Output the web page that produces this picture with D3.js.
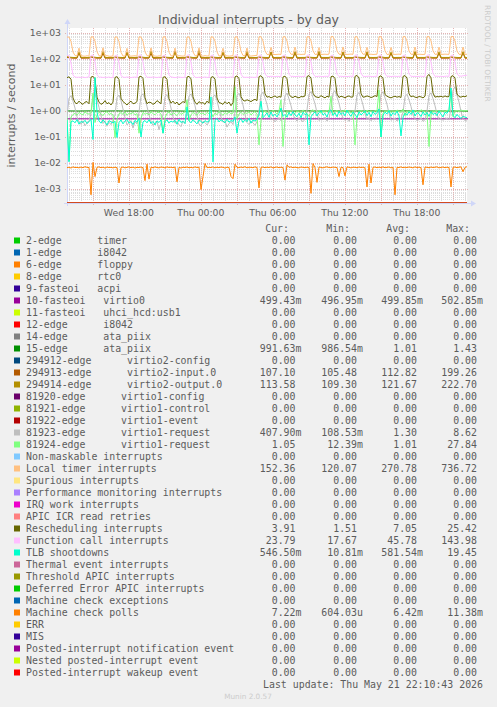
<!DOCTYPE html>
<html><head><meta charset="utf-8">
<script src="https://cdn.jsdelivr.net/npm/d3@7"></script>
<style>
html,body{margin:0;padding:0;background:#F0F0F0;}
svg{display:block;}
text{font-family:"DejaVu Sans";fill:#5c5c5c;}
.mono{font-family:"DejaVu Sans Mono";white-space:pre;}
</style></head><body>
<svg id="c" width="497" height="707"></svg>
<script>
// ---------------- DATA ----------------
const endTime = Date.UTC(2026, 4, 21, 22, 10, 43);
const spanSec = 120000;
const stepSec = 600;       // 10-minute samples
const flatStepSec = 3600;  // hourly samples for flat series

const yTickValues = [1e-3, 1e-2, 1e-1, 1e0, 1e1, 1e2, 1e3];
const yTickLabels = ["1e-03", "1e-02", "1e-01", "1e+00", "1e+01", "1e+02", "1e+03"];

const legendLabels = [
 "2-edge      timer","1-edge      i8042","6-edge      floppy","8-edge      rtc0","9-fasteoi   acpi",
 "10-fasteoi   virtio0","11-fasteoi   uhci_hcd:usb1","12-edge      i8042","14-edge      ata_piix","15-edge      ata_piix",
 "294912-edge      virtio2-config","294913-edge      virtio2-input.0","294914-edge      virtio2-output.0",
 "81920-edge      virtio1-config","81921-edge      virtio1-control","81922-edge      virtio1-event",
 "81923-edge      virtio1-request","81924-edge      virtio1-request",
 "Non-maskable interrupts","Local timer interrupts","Spurious interrupts","Performance monitoring interrupts",
 "IRQ work interrupts","APIC ICR read retries","Rescheduling interrupts","Function call interrupts","TLB shootdowns",
 "Thermal event interrupts","Threshold APIC interrupts","Deferred Error APIC interrupts","Machine check exceptions",
 "Machine check polls","ERR","MIS","Posted-interrupt notification event","Nested posted-interrupt event",
 "Posted-interrupt wakeup event"];
const legendColors = ["#00CC00","#0066B3","#FF8000","#FFCC00","#330099","#990099","#CCFF00","#FF0000","#808080","#008F00",
 "#00487D","#B35A00","#B38F00","#6B006B","#8FB300","#B30000","#BEBEBE","#80FF80","#80C9FF","#FFC080","#FFE680","#AA80FF",
 "#EE00CC","#FF8080","#666600","#FFBFFF","#00FFCC","#CC6699","#999900","#00CC00","#0066B3","#FF8000","#FFCC00","#330099",
 "#990099","#CCFF00","#FF0000"];
const curVals = ["0.00","0.00","0.00","0.00","0.00","499.43m","0.00","0.00","0.00","991.63m","0.00","107.10","113.58","0.00","0.00","0.00","407.90m","1.05","0.00","152.36","0.00","0.00","0.00","0.00","3.91","23.79","546.50m","0.00","0.00","0.00","0.00","7.22m","0.00","0.00","0.00","0.00","0.00"];
const minVals = ["0.00","0.00","0.00","0.00","0.00","496.95m","0.00","0.00","0.00","986.54m","0.00","105.48","109.30","0.00","0.00","0.00","108.53m","12.39m","0.00","120.07","0.00","0.00","0.00","0.00","1.51","17.67","10.81m","0.00","0.00","0.00","0.00","604.03u","0.00","0.00","0.00","0.00","0.00"];
const avgVals = ["0.00","0.00","0.00","0.00","0.00","499.85m","0.00","0.00","0.00","1.01","0.00","112.82","121.67","0.00","0.00","0.00","1.30","1.01","0.00","270.78","0.00","0.00","0.00","0.00","7.05","45.78","581.54m","0.00","0.00","0.00","0.00","6.42m","0.00","0.00","0.00","0.00","0.00"];
const maxVals = ["0.00","0.00","0.00","0.00","0.00","502.85m","0.00","0.00","0.00","1.43","0.00","199.26","222.70","0.00","0.00","0.00","8.62","27.84","0.00","736.72","0.00","0.00","0.00","0.00","25.42","143.98","19.45","0.00","0.00","0.00","0.00","11.38m","0.00","0.00","0.00","0.00","0.00"];

// flat series (hourly)
const fasteoi10 = [0.4998,0.5003,0.4995,0.5001,0.4997,0.5004,0.4999,0.5002,0.4996,0.5000,0.5003,0.4998,0.5001,0.4997,0.5002,0.4999,0.5004,0.4996,0.5000,0.5003,0.4998,0.5001,0.4997,0.5002,0.4999,0.5000,0.5003,0.4997,0.5001,0.4998,0.5002,0.4999,0.4996,0.5001,0.4994];
const edge15 = [1.005,0.998,1.012,0.994,1.008,1.001,0.996,1.010,0.999,1.006,0.993,1.004,1.011,0.997,1.002,1.009,0.995,1.007,1.000,0.998,1.013,0.994,1.005,1.001,0.997,1.008,1.003,0.996,1.010,0.999,1.004,0.995,1.002,0.992,0.992];

// 10-minute series (201 samples)
const edge294913 = [
115,112,109,107.4,106.8,107.2,172,107.9,106.9,107.5,108.1,107.1,
116,113,110,107.1,107.6,106.7,168,107.3,108.0,106.9,107.4,107.8,
114,111,108.5,107.6,106.9,107.5,181,107.0,107.7,108.2,106.8,107.3,
115,112,109.5,106.9,107.3,107.8,165,107.5,106.6,107.2,107.9,107.0,
117,114,110,107.3,107.0,106.8,199,107.6,107.2,106.9,107.4,107.7,
115,112,109,107.7,106.9,107.3,170,107.1,107.8,107.4,106.7,107.2,
114,111,108.8,107.0,107.6,107.1,176,106.8,107.3,107.9,107.2,106.9,
116,113,109.6,107.5,107.2,106.7,163,107.4,107.0,107.6,108.0,107.3,
115,112,109.2,107.2,106.9,107.6,184,107.3,107.8,107.0,106.8,107.5,
114,112,108.9,107.8,107.3,107.0,171,107.5,106.9,107.4,107.7,107.1,
116,113,109.7,107.1,107.5,107.9,169,107.0,107.4,106.8,107.3,107.6,
115,111,109.1,107.6,107.0,107.3,178,107.8,107.1,107.5,106.9,107.4,
117,114,110.2,107.3,107.7,106.9,174,107.2,107.6,107.0,107.8,107.2,
115,112,109.4,107.0,107.4,107.6,166,107.5,106.9,107.3,107.1,107.7,
116,113,109.8,107.5,106.8,107.2,180,107.1,107.7,107.4,107.0,107.3,
114,111,108.7,107.2,107.6,107.4,171,107.6,107.2,106.9,107.5,107.0,
115,112,109.3,107.4,107.1,107.5,175,107.3,107.1];
const edge294914 = [
123,118,116,114.6,114.1,114.8,188,114.3,115.0,114.5,114.2,114.9,
124,119,116.5,114.2,114.9,114.4,195,114.8,114.1,114.6,115.1,114.3,
122,117,115.8,114.8,114.3,114.0,179,114.5,114.9,114.2,114.7,114.4,
125,120,116.8,114.4,114.7,115.0,203,114.1,114.6,114.9,114.3,114.8,
123,118,116.2,114.9,114.2,114.5,190,114.7,114.3,114.0,114.8,114.5,
126,121,117,114.3,114.8,114.6,222.7,114.4,114.9,114.5,114.1,114.7,
122,118,115.9,114.7,114.4,114.1,185,114.9,114.2,114.8,114.5,114.3,
124,119,116.6,114.1,114.9,114.7,197,114.3,114.8,114.4,114.0,114.6,
123,117,116.1,114.8,114.3,114.5,182,114.6,114.1,114.9,114.7,114.2,
125,120,116.9,114.4,114.6,114.2,193,114.9,114.5,114.3,114.8,114.6,
122,118,115.7,114.6,114.1,114.8,199,114.2,114.7,114.5,114.3,114.9,
124,119,116.4,114.3,114.8,114.5,187,114.6,114.4,114.9,114.2,114.5,
123,118,116.3,114.9,114.5,114.2,191,114.4,114.8,114.1,114.6,114.7,
125,121,117.1,114.2,114.7,114.9,184,114.8,114.3,114.6,114.9,114.1,
122,117,115.9,114.7,114.3,114.6,196,114.5,114.1,114.8,114.4,114.6,
124,119,116.5,114.5,114.9,114.3,189,114.2,114.7,114.4,114.8,114.3,
123,118,116.2,114.6,114.2,114.8,192,113.9,113.6];
const edge81923 = [
0.6,3.1,3.9,2.4,1.3,0.6,0.38,0.31,0.42,0.27,0.35,0.4,
0.8,3.6,4.4,2.7,1.4,0.65,0.33,0.41,0.26,0.37,0.3,0.44,
0.7,3.3,4.1,2.5,1.2,0.55,0.29,0.36,0.43,0.22,0.38,0.32,
0.9,3.8,4.6,2.8,1.5,0.7,0.4,0.28,0.35,0.41,0.19,0.36,
0.75,3.5,4.3,2.6,1.3,0.6,0.34,0.39,0.3,0.25,0.42,0.33,
0.85,3.7,4.5,2.9,1.6,0.68,0.31,0.27,0.4,0.36,0.29,0.38,
0.7,3.4,4.2,2.5,1.2,0.58,0.37,0.42,0.24,0.33,0.39,0.3,
0.95,3.9,4.8,3.0,1.7,0.72,0.36,0.3,0.41,0.35,0.28,0.4,
1.0,4.2,5.3,3.2,1.8,0.8,0.45,0.52,0.38,0.47,0.55,0.42,
0.9,3.8,4.9,2.9,1.6,0.75,0.5,0.41,0.56,0.44,0.39,0.48,
1.1,4.4,5.6,3.3,1.9,0.85,0.43,0.5,0.46,0.58,0.41,0.53,
1.2,4.9,6.1,3.5,2.0,0.9,0.52,0.44,0.49,0.4,0.54,0.46,
1.0,4.1,5.2,3.1,1.7,0.78,0.47,0.55,0.42,0.5,0.45,0.57,
1.1,4.3,5.5,3.2,1.8,0.82,0.44,0.49,0.53,0.41,0.48,0.51,
0.9,3.6,4.4,2.7,1.5,0.7,0.5,0.43,0.47,0.55,0.4,0.46,
1.0,4.0,5.0,3.0,1.6,0.76,0.46,0.52,0.44,0.49,0.53,0.45,
1.3,6.2,8.6,4.1,2.2,0.95,0.5,0.43,0.41];
const edge81924 = [
0.62,0.012,0.58,0.74,0.81,0.69,0.88,0.77,0.71,0.93,0.8,0.76,
0.85,4.9,0.36,0.72,0.9,0.78,0.67,0.84,0.95,0.73,0.81,0.7,
0.095,0.48,0.79,0.86,0.74,0.92,0.68,0.83,0.77,0.89,0.71,0.8,
0.14,0.52,0.88,0.75,0.83,0.7,0.94,0.79,0.72,0.86,0.9,0.76,
0.14,0.55,0.81,0.92,0.7,0.85,0.78,0.66,0.89,0.74,0.82,0.93,
2.7,0.42,0.73,0.87,0.8,0.69,0.91,0.76,0.84,0.71,0.88,0.79,
0.9,0.6,0.84,0.72,0.95,0.81,0.68,0.87,0.75,0.92,0.78,0.83,
8.6,0.5,0.77,0.89,0.73,0.86,0.8,0.93,0.7,0.84,0.96,0.74,
0.05,0.45,0.88,1.02,0.79,0.95,0.84,1.08,0.9,0.76,0.99,2.7,
0.043,0.5,0.96,0.83,1.05,0.88,0.79,1.01,0.91,0.85,1.1,0.93,
0.8,0.62,0.97,1.12,0.86,0.94,1.03,0.81,0.99,0.9,1.07,0.88,
3.7,0.7,0.92,1.06,0.84,1.0,0.95,1.11,0.87,0.98,0.83,1.04,
0.05,0.55,0.9,1.03,0.96,0.85,1.09,0.93,1.0,0.88,1.05,0.97,
6.4,0.1,0.82,1.0,0.94,1.08,0.87,1.02,0.91,1.1,0.96,0.89,
1.2,0.66,0.99,0.91,1.06,0.86,1.04,0.95,0.9,1.12,0.98,0.93,
0.85,0.043,0.72,1.01,0.94,1.07,0.89,0.97,1.03,0.92,1.09,0.96,
5.6,0.6,0.98,1.05,0.93,1.1,0.99,1.02,1.05];
const localTimer = [
695,702,470,185,136,131,262,134,130,128,133,129,
706,711,485,192,133,129,271,131,135,128,127,132,
699,707,462,180,130,128,257,132,129,131,134,128,
712,703,478,188,135,131,268,133,130,127,132,131,
704,716,470,183,132,130,263,129,134,131,129,133,
697,709,466,186,134,132,270,131,129,135,130,132,
713,700,488,190,130,133,259,134,132,129,131,134,
702,714,474,194,137,134,266,132,130,133,136,138,
716,721,495,205,150,147,281,152,148,150,153,149,
709,727,490,201,153,150,286,151,154,149,152,151,
719,713,498,208,150,152,277,149,151,153,150,154,
723,731,492,204,154,149,291,153,150,152,155,151,
712,725,486,199,152,154,283,151,153,149,151,153,
726,719,500,206,149,151,279,154,150,152,154,150,
717,734,489,202,153,150,289,150,153,151,149,152,
729,722,496,207,151,153,285,152,151,154,152,151,
721,736,493,203,152,150,287,151,152];
const rescheduling = [
19.2,20.6,16.8,3.2,2.1,1.9,2.4,2.0,1.8,2.2,2.3,1.9,
20.1,21.3,17.5,3.4,2.2,1.8,2.0,2.5,1.9,2.1,1.7,2.2,
19.6,20.9,16.2,3.1,2.3,2.0,1.7,2.1,2.4,1.9,2.0,2.3,
20.4,21.8,17.9,3.3,1.9,2.2,2.1,1.8,2.0,2.5,2.2,1.9,
19.8,20.7,16.5,3.0,2.0,2.4,1.9,2.2,1.7,2.0,2.3,2.1,
20.3,21.5,17.2,3.5,2.2,1.8,2.3,2.0,2.1,1.8,2.4,2.0,
19.5,21.0,16.9,3.2,2.1,2.0,1.8,2.3,1.9,2.2,1.6,2.1,
20.6,22.4,17.6,3.6,2.6,2.4,2.7,2.5,2.3,2.6,2.8,2.5,
21.0,22.8,18.1,4.6,3.4,3.6,3.2,3.5,3.8,3.3,3.6,3.4,
20.4,21.9,17.4,4.4,3.5,3.3,3.7,3.4,3.2,3.6,3.5,3.8,
21.2,23.0,18.3,4.8,3.6,3.4,3.3,3.9,3.5,3.2,3.7,3.4,
20.8,22.1,17.8,4.5,3.3,3.7,3.5,3.2,3.6,3.8,3.4,3.5,
21.5,23.4,18.6,4.7,3.4,3.5,3.8,3.6,3.3,3.5,3.9,3.6,
20.9,22.6,17.9,4.3,3.7,3.4,3.2,3.5,3.7,3.4,3.6,3.3,
21.3,23.1,18.4,4.6,3.5,3.8,3.4,3.3,3.6,3.5,3.2,3.7,
21.7,25.4,18.8,4.9,3.4,3.6,3.5,3.7,3.4,3.8,3.5,3.6,
21.1,22.9,18.2,4.5,3.6,3.4,3.7,3.5,3.9];
const functionCall = [
134,139,70,24,20.3,19.7,20.1,19.5,20.4,19.2,19.9,20.6,
138,142,74,25,19.8,20.2,19.4,20.0,19.6,20.3,19.1,19.8,
136,140,69,23,20.1,19.5,20.4,19.8,19.3,20.0,20.2,19.6,
141,143,75,26,19.6,20.0,19.7,20.3,19.9,19.4,20.1,19.5,
135,138,71,24,20.4,19.8,19.2,19.9,20.2,19.7,19.5,20.0,
139,144,73,25,19.9,19.4,20.0,19.6,19.8,20.3,19.7,19.3,
137,141,70,24,19.5,20.1,19.8,20.2,19.4,19.9,20.4,19.8,
140,143,76,26,20.2,19.6,20.0,19.5,20.1,19.8,19.6,20.3,
138,142,74,27,21.5,21.0,21.8,21.2,20.9,21.6,21.3,21.1,
136,141,72,26,21.2,21.7,21.0,21.4,21.8,20.8,21.5,21.3,
140,143,75,27,21.6,21.1,21.9,21.3,21.0,21.7,21.4,21.8,
137,140,71,26,21.3,21.8,21.2,21.6,21.1,21.5,21.9,21.2,
141,143,76,28,21.7,21.2,21.5,21.9,21.3,21.0,21.6,21.4,
139,142,73,27,21.4,21.9,21.1,21.5,21.8,21.2,21.7,21.3,
136,141,74,26,21.8,21.3,21.6,21.0,21.4,21.9,21.2,21.7,
140,144,75,28,21.5,21.8,21.3,21.7,21.1,21.6,22.0,21.4,
138,142,73,27,22.1,21.8,22.6,23.2,23.8];
const tlbShootdowns = [
0.45,0.011,0.38,0.42,0.35,0.47,0.31,0.4,0.36,0.44,0.33,0.39,
0.48,0.08,19.4,0.9,0.41,0.34,0.46,0.37,0.29,0.43,0.38,0.35,
0.4,0.095,0.36,0.45,0.32,0.41,0.48,0.34,0.39,0.3,0.44,0.37,
0.52,0.1,0.38,0.43,0.35,0.47,0.33,0.4,0.29,0.42,0.36,0.45,
0.14,0.39,0.46,0.34,0.41,0.37,0.44,0.31,0.48,0.36,0.4,0.33,
1.45,0.42,0.35,0.47,0.38,0.32,0.45,0.4,0.34,0.43,0.37,0.41,
3.5,0.011,0.44,0.52,0.38,0.46,0.41,0.35,0.49,0.37,0.43,0.4,
0.6,0.14,0.42,0.5,0.36,0.47,0.39,0.53,0.34,0.45,0.41,0.48,
0.7,2.4,0.55,0.68,0.84,0.57,0.92,0.63,0.76,0.59,0.81,1.3,
0.62,0.74,0.58,0.88,0.66,0.95,0.7,0.61,0.83,0.55,0.9,0.72,
0.8,0.05,0.6,0.77,0.93,0.64,0.86,1.05,0.69,0.82,0.58,0.97,
1.1,0.67,0.85,0.6,0.98,0.73,0.88,0.65,1.08,0.78,0.62,0.91,
0.75,0.56,0.94,0.7,0.83,1.02,0.66,0.89,0.6,0.96,0.74,0.85,
1.2,0.1,0.68,0.9,0.77,1.04,0.63,0.87,0.72,0.99,0.65,0.11,
0.58,0.82,0.69,0.95,0.74,1.1,0.64,0.86,0.79,0.61,0.93,0.7,
0.88,0.62,0.97,0.73,0.85,0.66,1.01,0.76,0.59,0.9,0.81,1.15,
7.7,0.68,0.55,0.74,0.6,0.52,0.63,0.58,0.55];
const machineCheckPolls = [
.0066,.0069,.0064,.0071,.0067,.0068,.0065,.0070,.0066,.0072,.0068,.0067,
.0006,.0105,.0030,.0068,.0071,.0066,.0069,.0064,.0070,.0067,.0068,.0065,
.0069,.0066,.0017,.0067,.0070,.0065,.0068,.0071,.0066,.0069,.0064,.0068,
.0067,.0070,.0066,.0021,.0090,.0024,.0069,.0066,.0071,.0067,.0065,.0070,
.0068,.0065,.0071,.0067,.0069,.0066,.0070,.0019,.0068,.0064,.0069,.0067,
.0070,.0066,.0068,.0065,.0071,.0067,.0069,.00095,.0030,.0095,.0066,.0068,
.0067,.0071,.0065,.0069,.0066,.0070,.0068,.0064,.0069,.0067,.0030,.0025,
.0090,.0068,.0066,.0070,.0067,.0072,.0065,.0069,.0068,.0066,.0071,.0067,
.0011,.0068,.0070,.0066,.0069,.0067,.0071,.0065,.0068,.0070,.0066,.0069,
.0067,.0022,.0085,.0068,.0071,.0066,.0069,.0067,.0065,.0070,.0068,.0066,
.0069,.0067,.00068,.0095,.0066,.0018,.0070,.0068,.0065,.0069,.0071,.0067,
.0066,.0070,.0068,.0067,.0030,.0069,.0066,.0032,.0071,.0068,.0065,.0069,
.0068,.0066,.0070,.0067,.0069,.0065,.0012,.0090,.0017,.0068,.0070,.0066,
.0069,.0067,.0071,.0066,.0068,.0070,.0065,.0069,.0006,.0068,.0067,.0071,
.0066,.0069,.0067,.0070,.0068,.0065,.0071,.0067,.0069,.0066,.00145,.0070,
.0068,.0066,.0070,.0067,.0069,.0071,.0065,.0068,.0070,.0066,.0069,.0067,
.0012,.0068,.0070,.0066,.0069,.0071,.0046,.0068,.0072];
const zeroSeries = [0, 0];

// series per legend row: [values, step seconds]
const seriesByRow = {
  5: [fasteoi10, flatStepSec], 9: [edge15, flatStepSec],
  11: [edge294913, stepSec], 12: [edge294914, stepSec],
  16: [edge81923, stepSec], 17: [edge81924, stepSec],
  19: [localTimer, stepSec], 24: [rescheduling, stepSec],
  25: [functionCall, stepSec], 26: [tlbShootdowns, stepSec],
  31: [machineCheckPolls, stepSec]
};

// ---------------- DRAW ----------------
const svg = d3.select("#c");
const W = 497;
const plot = {left: 67, right: 467, top: 28, bottom: 203};
const startTime = endTime - spanSec * 1000;

const x = d3.scaleUtc().domain([new Date(startTime), new Date(endTime)]).range([plot.left, plot.right]);
const y = d3.scaleLog().domain([1e-3, 1e3]).range([189, 33]);
const yBottomVal = y.invert(plot.bottom);
const yTopVal = y.invert(plot.top);
const yv = v => v > 0 ? y(v) : y(yBottomVal);

svg.append("rect").attr("width", W).attr("height", 707).attr("fill", "#F0F0F0");
svg.append("rect").attr("x", plot.left).attr("y", plot.top)
  .attr("width", plot.right - plot.left).attr("height", plot.bottom - plot.top).attr("fill", "#FFFFFF");

svg.append("defs").append("clipPath").attr("id", "clip").append("rect")
  .attr("x", plot.left).attr("y", plot.top - 1).attr("width", plot.right - plot.left + 1).attr("height", plot.bottom - plot.top + 1);

const grid = svg.append("g");
// horizontal minor grid
const minorY = [];
for (let d = -4; d <= 3; d++) for (let m = 2; m <= 9; m++) {
  const v = m * Math.pow(10, d);
  if (v > yBottomVal && v < yTopVal) minorY.push(v);
}
grid.selectAll(".hmin").data(minorY).enter().append("line")
  .attr("x1", plot.left).attr("x2", plot.right)
  .attr("y1", d => Math.round(y(d)) + 0.5).attr("y2", d => Math.round(y(d)) + 0.5)
  .attr("stroke", "#DDDDDD").attr("stroke-dasharray", "1,1");
// vertical minor grid (hourly)
const hours = d3.utcHour.every(1).range(new Date(startTime), new Date(endTime));
grid.selectAll(".vmin").data(hours).enter().append("line")
  .attr("x1", d => Math.round(x(d)) + 0.5).attr("x2", d => Math.round(x(d)) + 0.5)
  .attr("y1", plot.top).attr("y2", plot.bottom)
  .attr("stroke", "#DDDDDD").attr("stroke-dasharray", "1,1");
// major horizontal
grid.selectAll(".hmaj").data(yTickValues).enter().append("line")
  .attr("x1", plot.left - 2).attr("x2", plot.right + 2)
  .attr("y1", d => Math.round(y(d)) + 0.5).attr("y2", d => Math.round(y(d)) + 0.5)
  .attr("stroke", "#E3B4B4").attr("stroke-dasharray", "1,1");
// major vertical (3h)
const majHours = d3.utcHour.every(3).range(new Date(startTime), new Date(endTime));
grid.selectAll(".vmaj").data(majHours).enter().append("line")
  .attr("x1", d => Math.round(x(d)) + 0.5).attr("x2", d => Math.round(x(d)) + 0.5)
  .attr("y1", plot.top).attr("y2", plot.bottom + 2)
  .attr("stroke", "#E3B4B4").attr("stroke-dasharray", "1,1");

// axes (rrdtool style)
const axisCol = "#CFD6F8";
svg.append("line").attr("x1", plot.left + 0.5).attr("x2", plot.left + 0.5).attr("y1", plot.bottom + 3).attr("y2", plot.top - 5)
  .attr("stroke", axisCol);
svg.append("path").attr("d", `M${plot.left - 2.5},${plot.top - 4} L${plot.left + 3.5},${plot.top - 4} L${plot.left + 0.5},${plot.top - 9} Z`).attr("fill", axisCol);
svg.append("line").attr("x1", plot.left - 3).attr("x2", plot.right + 4).attr("y1", plot.bottom + 0.5).attr("y2", plot.bottom + 0.5)
  .attr("stroke", axisCol);
svg.append("path").attr("d", `M${plot.right + 4},${plot.bottom - 2.5} L${plot.right + 4},${plot.bottom + 3.5} L${plot.right + 9},${plot.bottom + 0.5} Z`).attr("fill", axisCol);

// y tick labels
svg.selectAll(".ylab").data(yTickValues).enter().append("text")
  .attr("x", 61).attr("y", d => y(d) + 3.4).attr("text-anchor", "end")
  .attr("font-size", 9.3).text((d, i) => yTickLabels[i]);
// x tick labels
const labHours = d3.utcHour.every(6).range(new Date(startTime), new Date(endTime));
const fmt = d3.utcFormat("%a %H:%M");
svg.selectAll(".xlab").data(labHours).enter().append("text")
  .attr("x", d => x(d)).attr("y", 216).attr("text-anchor", "middle")
  .attr("font-size", 9.3).text(d => fmt(d));

// series lines
const lines = svg.append("g").attr("clip-path", "url(#clip)");
legendLabels.forEach((lab, i) => {
  let vals, step;
  if (seriesByRow[i]) { vals = seriesByRow[i][0]; step = seriesByRow[i][1]; }
  else { vals = zeroSeries; step = spanSec; }
  const pts = vals.map((v, k) => ({t: new Date(startTime + k * step * 1000), v}));
  const gen = d3.line().x(d => x(d.t)).y(d => yv(d.v));
  lines.append("path").attr("d", gen(pts)).attr("fill", "none")
    .attr("stroke", legendColors[i]).attr("stroke-width", 1);
});

// title & labels
svg.append("text").attr("x", 248.5).attr("y", 24).attr("text-anchor", "middle")
  .attr("font-size", 12.5).text("Individual interrupts - by day");
svg.append("text").attr("transform", "translate(14.5,115.5) rotate(-90)").attr("text-anchor", "middle")
  .attr("font-size", 11).text("interrupts / second");
svg.append("text").attr("transform", "translate(485,5) rotate(90)").attr("text-anchor", "start")
  .attr("font-size", 7.5).style("fill", "#CCCCCC").text("RRDTOOL / TOBI OETIKER");

// legend
const mono = 9.9;
const hdr = [["Cur:", 289], ["Min:", 350], ["Avg:", 410], ["Max:", 470]];
hdr.forEach(h => svg.append("text").attr("class", "mono").attr("x", h[1]).attr("y", 232)
  .attr("text-anchor", "end").attr("font-size", mono).text(h[0]));
const colEnds = [295.5, 357, 417, 477];
const cols = [curVals, minVals, avgVals, maxVals];
legendLabels.forEach((lab, i) => {
  const yb = 244 + 12 * i;
  svg.append("rect").attr("x", 14).attr("y", yb - 6.5).attr("width", 6).attr("height", 6).attr("fill", legendColors[i]);
  svg.append("text").attr("class", "mono").attr("xml:space", "preserve").attr("x", 26).attr("y", yb)
    .attr("font-size", mono).text(lab);
  cols.forEach((arr, c) => {
    const s = arr[i];
    const suf = /[a-z]$/.test(s) ? s.slice(-1) : "";
    const num = suf ? s.slice(0, -1) : s;
    svg.append("text").attr("class", "mono").attr("x", colEnds[c]).attr("y", yb)
      .attr("text-anchor", "end").attr("font-size", mono).text(num);
    if (suf) svg.append("text").attr("class", "mono").attr("x", colEnds[c]).attr("y", yb)
      .attr("font-size", mono).text(suf);
  });
});
svg.append("text").attr("class", "mono").attr("x", 483).attr("y", 688).attr("text-anchor", "end")
  .attr("font-size", mono).text("Last update: Thu May 21 22:10:43 2026");
svg.append("text").attr("x", 248).attr("y", 699).attr("text-anchor", "middle")
  .attr("font-size", 7.3).style("fill", "#CCCCCC").text("Munin 2.0.57");
</script></body></html>
